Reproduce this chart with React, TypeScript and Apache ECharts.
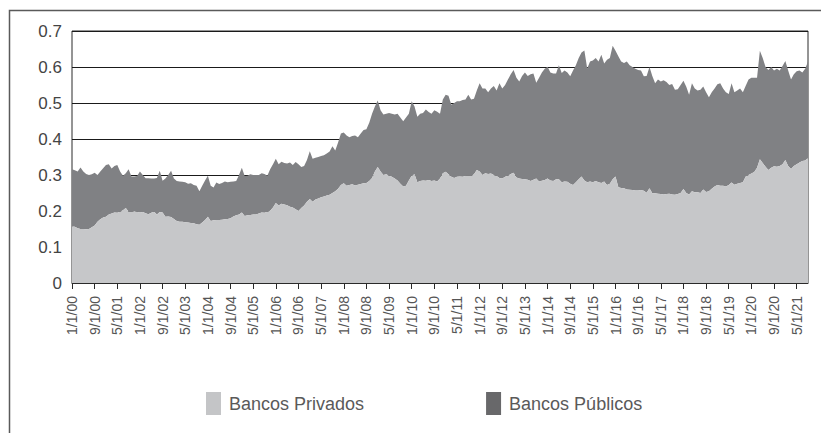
import React, { useEffect, useRef } from "react";
import * as echarts from "echarts";

// Monthly categories Jan 2000 .. Sep 2021 (M/1/YY)
const startYear = 2000;
const monthCount = 261;
const categories: string[] = [];
for (let i = 0; i < monthCount; i++) {
  const m = (i % 12) + 1;
  const y = (startYear + Math.floor(i / 12)) % 100;
  categories.push(`${m}/1/${y < 10 ? "0" + y : y}`);
}

const seriesNames = ["Bancos Privados", "Bancos Públicos"];

// Bancos Privados (bottom layer), by year
const privados: number[] = [
  // 2000
  0.157, 0.156, 0.152, 0.15, 0.15, 0.149, 0.15, 0.155, 0.16, 0.17, 0.177, 0.182,
  // 2001
  0.184, 0.19, 0.193, 0.196, 0.195, 0.198, 0.202, 0.208, 0.198, 0.197, 0.2, 0.198,
  // 2002
  0.196, 0.197, 0.194, 0.191, 0.195, 0.198, 0.19, 0.197, 0.196, 0.184, 0.185, 0.183,
  // 2003
  0.178, 0.172, 0.17, 0.17, 0.169, 0.168, 0.167, 0.166, 0.163, 0.162, 0.168, 0.175,
  // 2004
  0.184, 0.172, 0.174, 0.175, 0.175, 0.176, 0.177, 0.178, 0.18, 0.185, 0.188, 0.19,
  // 2005
  0.196, 0.186, 0.188, 0.189, 0.19, 0.19, 0.193, 0.196, 0.195, 0.198, 0.201, 0.21,
  // 2006
  0.222, 0.215, 0.22, 0.218, 0.216, 0.212, 0.21, 0.205, 0.2, 0.208, 0.215, 0.226,
  // 2007
  0.233, 0.226, 0.232, 0.235, 0.238, 0.24, 0.243, 0.245, 0.25, 0.255, 0.262, 0.272,
  // 2008
  0.277, 0.27, 0.272, 0.274, 0.271, 0.273, 0.275, 0.277, 0.278, 0.283, 0.292, 0.31,
  // 2009
  0.322, 0.31, 0.3, 0.302, 0.298, 0.295, 0.29, 0.285, 0.276, 0.268, 0.27, 0.285,
  // 2010
  0.298, 0.302, 0.28, 0.283, 0.285, 0.284, 0.286, 0.283, 0.285, 0.282, 0.29, 0.305,
  // 2011
  0.309, 0.302, 0.295, 0.292, 0.295, 0.296, 0.295, 0.297, 0.298, 0.297, 0.302, 0.314,
  // 2012
  0.31, 0.3, 0.305, 0.303, 0.304, 0.3, 0.297, 0.292, 0.29, 0.295, 0.298, 0.303,
  // 2013
  0.306, 0.293, 0.29, 0.289, 0.288, 0.287, 0.283, 0.287, 0.29, 0.282, 0.284, 0.286,
  // 2014
  0.29, 0.285, 0.283, 0.288, 0.288, 0.28, 0.282, 0.281, 0.276, 0.272, 0.28, 0.288,
  // 2015
  0.296, 0.285, 0.28, 0.282, 0.28, 0.283, 0.28, 0.278, 0.282, 0.272, 0.276, 0.288,
  // 2016
  0.296, 0.266, 0.264, 0.263, 0.26, 0.259, 0.258, 0.257, 0.257, 0.258, 0.256, 0.251,
  // 2017
  0.263, 0.249, 0.249, 0.248, 0.247, 0.246, 0.247, 0.248, 0.246, 0.245, 0.247, 0.25,
  // 2018
  0.261, 0.25, 0.246, 0.255, 0.252, 0.252, 0.25, 0.26, 0.253, 0.255, 0.262, 0.268,
  // 2019
  0.272, 0.27, 0.27, 0.268, 0.272, 0.279, 0.273, 0.276, 0.278, 0.28, 0.296, 0.3,
  // 2020
  0.304, 0.308, 0.32, 0.344, 0.333, 0.323, 0.314, 0.32, 0.324, 0.323, 0.325, 0.33,
  // 2021
  0.342, 0.325, 0.317, 0.325, 0.33, 0.335, 0.339, 0.34, 0.347,
];

// Bancos Públicos (stacked on top), by year
const publicos: number[] = [
  // 2000
  0.159, 0.157, 0.158, 0.171, 0.16, 0.154, 0.15, 0.147, 0.146, 0.13, 0.133, 0.137,
  // 2001
  0.144, 0.14, 0.125, 0.129, 0.133, 0.112, 0.096, 0.097, 0.118, 0.099, 0.096, 0.099,
  // 2002
  0.114, 0.103, 0.097, 0.1, 0.095, 0.092, 0.102, 0.115, 0.088, 0.106, 0.115, 0.129,
  // 2003
  0.112, 0.111, 0.112, 0.111, 0.111, 0.108, 0.11, 0.106, 0.107, 0.093, 0.102, 0.11,
  // 2004
  0.114, 0.098, 0.091, 0.104, 0.1, 0.102, 0.105, 0.102, 0.101, 0.097, 0.095, 0.11,
  // 2005
  0.124, 0.111, 0.11, 0.113, 0.11, 0.11, 0.107, 0.109, 0.108, 0.1, 0.115, 0.12,
  // 2006
  0.123, 0.115, 0.117, 0.115, 0.116, 0.123, 0.118, 0.131, 0.13, 0.114, 0.11, 0.116,
  // 2007
  0.133, 0.119, 0.116, 0.115, 0.115, 0.115, 0.117, 0.12, 0.13, 0.113, 0.128, 0.143,
  // 2008
  0.141, 0.14, 0.133, 0.134, 0.139, 0.132, 0.14, 0.148, 0.149, 0.162, 0.178, 0.18,
  // 2009
  0.185, 0.17, 0.168, 0.168, 0.174, 0.175, 0.178, 0.185, 0.184, 0.181, 0.19, 0.185,
  // 2010
  0.207, 0.188, 0.182, 0.187, 0.187, 0.198, 0.189, 0.187, 0.195, 0.194, 0.18, 0.205,
  // 2011
  0.214, 0.218, 0.2, 0.208, 0.21, 0.209, 0.213, 0.213, 0.225, 0.213, 0.21, 0.221,
  // 2012
  0.245, 0.24, 0.235, 0.227, 0.236, 0.247, 0.238, 0.263, 0.25, 0.255, 0.267, 0.277,
  // 2013
  0.286, 0.277, 0.27, 0.286, 0.297, 0.288, 0.297, 0.295, 0.266, 0.288, 0.301, 0.309,
  // 2014
  0.311, 0.3, 0.299, 0.294, 0.317, 0.303, 0.308, 0.304, 0.298, 0.318, 0.325, 0.337,
  // 2015
  0.344, 0.361, 0.316, 0.333, 0.338, 0.342, 0.335, 0.356, 0.328, 0.348, 0.349, 0.371,
  // 2016
  0.349, 0.364, 0.351, 0.348, 0.355, 0.346, 0.342, 0.338, 0.335, 0.332, 0.318, 0.324,
  // 2017
  0.337, 0.326, 0.306, 0.317, 0.313, 0.317, 0.311, 0.302, 0.307, 0.292, 0.291, 0.3,
  // 2018
  0.301, 0.295, 0.277, 0.3, 0.288, 0.283, 0.287, 0.286, 0.277, 0.261, 0.268, 0.272,
  // 2019
  0.28, 0.285, 0.27, 0.262, 0.253, 0.276, 0.257, 0.259, 0.262, 0.25, 0.252, 0.265,
  // 2020
  0.266, 0.262, 0.25, 0.301, 0.292, 0.277, 0.278, 0.28, 0.266, 0.272, 0.265, 0.273,
  // 2021
  0.275, 0.265, 0.248, 0.255, 0.258, 0.255, 0.246, 0.255, 0.268,
];

const yTicks = { min: 0, max: 0.7, interval: 0.1 };

export default function App() {
  const ref = useRef<HTMLDivElement>(null);

  useEffect(() => {
    document.body.style.margin = "0";
    if (!ref.current) return;
    const chart = echarts.init(ref.current, undefined, { renderer: "svg" });
    const font = "Liberation Sans, Arial, sans-serif";
    chart.setOption({
      animation: false,
      backgroundColor: "#ffffff",
      textStyle: { fontFamily: font },
      grid: {
        left: 72,
        right: 13,
        top: 31,
        bottom: 150,
        show: true,
        borderColor: "#2a2a2a",
        borderWidth: 1,
        backgroundColor: "transparent",
      },
      legend: {
        left: 206,
        top: 392,
        padding: 0,
        itemWidth: 15,
        itemHeight: 23,
        itemGap: 122,
        icon: "rect",
        textStyle: { fontSize: 18, color: "#5a5a5a", fontFamily: font, padding: [0, 0, 0, 3] },
        data: [
          { name: seriesNames[0], itemStyle: { color: "#c4c5c7" } },
          { name: seriesNames[1], itemStyle: { color: "#68686a" } },
        ],
      },
      graphic: [
        {
          type: "rect",
          shape: { x: 9.5, y: 10.5, width: 900, height: 600 },
          style: { fill: "none", stroke: "#5a5a5a", lineWidth: 1.5 },
          silent: true,
        },
      ],
      xAxis: {
        type: "category",
        data: categories,
        boundaryGap: false,
        axisLine: { lineStyle: { color: "#2a2a2a", width: 1 } },
        axisTick: { interval: 7, length: 6, lineStyle: { color: "#2a2a2a" } },
        axisLabel: {
          interval: 7,
          rotate: 90,
          fontSize: 14,
          color: "#555555",
          margin: 13,
          fontFamily: font,
        },
        splitLine: { show: false },
      },
      yAxis: {
        type: "value",
        min: yTicks.min,
        max: yTicks.max,
        interval: yTicks.interval,
        axisLine: { show: false },
        axisTick: { show: false },
        axisLabel: { fontSize: 17, color: "#444444", margin: 10, fontFamily: font },
        splitLine: { show: true, lineStyle: { color: "#1a1a1a", width: 1 } },
      },
      series: [
        {
          name: seriesNames[0],
          type: "line",
          stack: "total",
          data: privados,
          symbol: "none",
          lineStyle: { width: 0 },
          itemStyle: { color: "#c6c7c9" },
          areaStyle: { color: "#c6c7c9", opacity: 1 },
          z: 3,
        },
        {
          name: seriesNames[1],
          type: "line",
          stack: "total",
          data: publicos,
          symbol: "none",
          lineStyle: { width: 0 },
          itemStyle: { color: "#808184" },
          areaStyle: { color: "#808184", opacity: 1 },
          z: 2,
        },
      ],
    });
    return () => chart.dispose();
  }, []);

  return <div ref={ref} style={{ width: 821, height: 433 }} />;
}
